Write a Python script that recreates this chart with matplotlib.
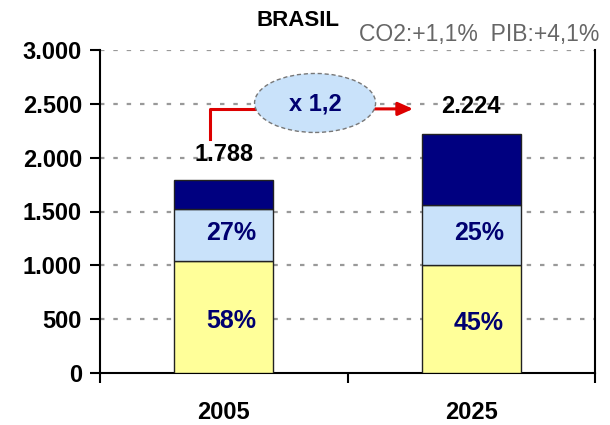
import matplotlib
matplotlib.use("Agg")
import matplotlib.pyplot as plt
from matplotlib.patches import Ellipse

plt.rcParams['font.family'] = ['Liberation Sans', 'DejaVu Sans']

years = ["2005", "2025"]
seg_bottom = [1037, 1001]
seg_middle = [483, 556]
seg_top = [268, 667]
totals = ["1.788", "2.224"]
pct_bottom = ["58%", "45%"]
pct_middle = ["27%", "25%"]
yticks = [0, 500, 1000, 1500, 2000, 2500, 3000]
ytick_labels = ["0", "500", "1.000", "1.500", "2.000", "2.500", "3.000"]
growth_label = "x 1,2"
title = "BRASIL"
subtitle = "CO2:+1,1%  PIB:+4,1%"

fig = plt.figure(figsize=(6.1, 4.25), dpi=100)
ax = fig.add_axes([100/610, 1-373/425, 495/610, 323/425])

x = [0, 1]
w = 0.4
ax.bar(x, seg_bottom, w, color="#FFFF99", edgecolor="#222222", linewidth=1, zorder=3)
mid_base = seg_bottom
ax.bar(x, seg_middle, w, bottom=mid_base, color="#C9E2FA", edgecolor="#222222", linewidth=1, zorder=3)
top_base = [a + b for a, b in zip(seg_bottom, seg_middle)]
ax.bar(x, seg_top, w, bottom=top_base, color="#000080", edgecolor="#222222", linewidth=1, zorder=3)

ax.set_xlim(-0.5, 1.5)
ax.set_ylim(0, 3000)
ax.set_yticks(yticks)
ax.set_yticklabels(ytick_labels, fontsize=17, fontweight="bold")
ax.set_xticks(x)
ax.set_xticklabels(years, fontsize=17, fontweight="bold")
ax.tick_params(axis="x", length=0, pad=20)
ax.tick_params(axis="y", length=7, width=1.5, direction="out", pad=6)
ax.set_xticks([-0.5, 0.5, 1.5], minor=True)
ax.tick_params(axis="x", which="minor", length=7, width=1.5, direction="out")

for yv in yticks[1:]:
    ax.axhline(yv, color="#999999", linestyle=(0, (2, 4)), linewidth=1.6, zorder=1)

ax.spines["top"].set_visible(False)
for s in ["left", "bottom", "right"]:
    ax.spines[s].set_linewidth(1.5)
    ax.spines[s].set_color("black")

for i in x:
    ax.text(i + 0.03, seg_bottom[i] / 2 - 40, pct_bottom[i], ha="center", va="center",
            fontsize=18, fontweight="bold", color="#000070", zorder=4)
    ax.text(i + 0.03, seg_bottom[i] + seg_middle[i] / 2 + 25, pct_middle[i], ha="center", va="center",
            fontsize=18, fontweight="bold", color="#000070", zorder=4)

tot_vals = [t + s for t, s in zip(top_base, seg_top)]
ax.text(0, tot_vals[0] + 240, totals[0], ha="center", va="center", fontsize=17, fontweight="bold", zorder=4)
ax.text(1, 2475, totals[1], ha="center", va="center", fontsize=17, fontweight="bold", zorder=4)

# growth arrow
ax.plot([-0.056, -0.056, 0.15], [2174, 2453, 2453], color="#DD0000", linewidth=2.2, zorder=5)
ax.annotate("", xy=(0.765, 2453), xytext=(0.55, 2453),
            arrowprops=dict(arrowstyle="-|>,head_length=0.9,head_width=0.4", color="#DD0000", lw=2.2,
                            shrinkA=0, shrinkB=0),
            zorder=5)
ell = Ellipse((0.369, 2508), 0.489, 548, facecolor="#C9E2FA", edgecolor="#777777",
              linestyle=(0, (3, 2)), linewidth=1, zorder=6)
ax.add_patch(ell)
ax.text(0.369, 2500, growth_label, ha="center", va="center", fontsize=17, fontweight="bold",
        color="#000070", zorder=7)

fig.text(298/610, 1-21/425, title, ha="center", va="center", fontsize=16, fontweight="bold")
fig.text(359/610, 1-35/425, subtitle, ha="left", va="center", fontsize=16.5, color="#666666")

fig.savefig("out.png", dpi=100)
